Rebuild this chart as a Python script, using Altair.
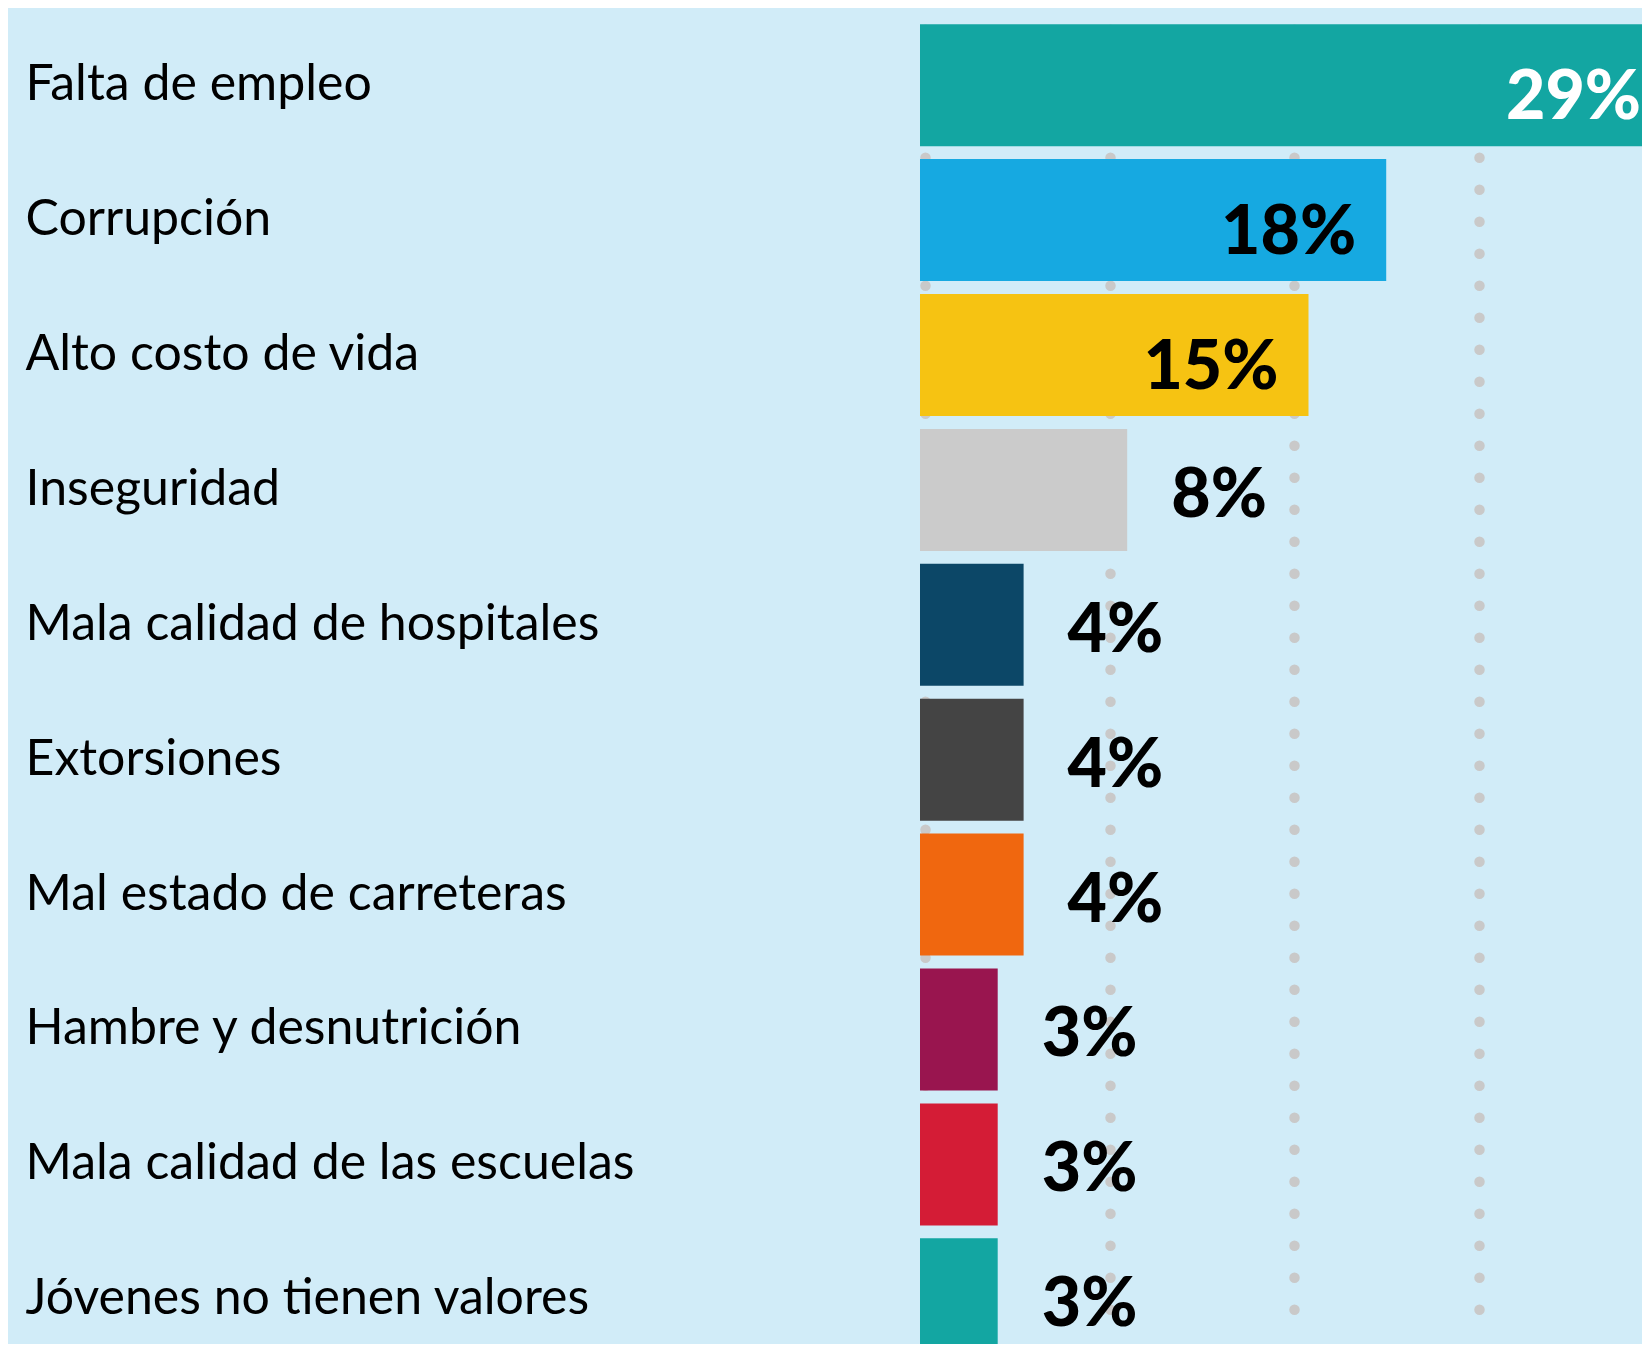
import altair as alt
import pandas as pd

categories = [
    "Falta de empleo",
    "Corrupción",
    "Alto costo de vida",
    "Inseguridad",
    "Mala calidad de hospitales",
    "Extorsiones",
    "Mal estado de carreteras",
    "Hambre y desnutrición",
    "Mala calidad de las escuelas",
    "Jóvenes no tienen valores",
]
values = [29, 18, 15, 8, 4, 4, 4, 3, 3, 3]
colors = [
    "#13a6a2", "#16a9e1", "#f6c312", "#cbcbcb", "#0c4767",
    "#444444", "#f0670f", "#99154f", "#d41c36", "#13a6a2",
]
grid_values = [0.19, 7.32, 14.44, 21.58]

df = pd.DataFrame({
    "categoria": categories,
    "valor": values,
    "etiqueta": [f"{v}%" for v in values],
})

x = alt.X(
    "valor:Q",
    scale=alt.Scale(domain=[0, 27.876], nice=False, zero=True),
    axis=alt.Axis(
        title=None, labels=False, ticks=False, domain=False,
        values=grid_values, grid=True, gridColor="#c9c9c9",
        gridWidth=10.5, gridDash=[0.1, 31.9], gridCap="round",
        gridDashOffset=13.5,
    ),
)
y = alt.Y(
    "categoria:N",
    sort=categories,
    scale=alt.Scale(range=[16.2, 1352.3], paddingInner=0.0956, paddingOuter=0),
    axis=alt.Axis(
        title=None, ticks=False, domain=False, grid=False,
        labelAlign="left", labelPadding=895, labelFont="Lato",
        labelFontSize=50, labelColor="#000000", labelLimit=0,
        labelBaseline="middle",
    ),
)

bars = alt.Chart(df).mark_bar(clip=True).encode(
    x=x,
    y=y,
    color=alt.Color("categoria:N", scale=alt.Scale(domain=categories, range=colors), legend=None),
)

inside = alt.Chart(df).transform_filter("datum.valor >= 10").mark_text(
    align="right", baseline="middle", dx=-30, dy=14,
    font="Lato", fontSize=68, fontWeight=900,
).encode(
    x=x, y=y, text="etiqueta:N",
    color=alt.condition("datum.valor > 25", alt.value("#ffffff"), alt.value("#000000")),
)

outside = alt.Chart(df).transform_filter("datum.valor < 10").mark_text(
    align="left", baseline="middle", dx=44, dy=7,
    font="Lato", fontSize=68, fontWeight=900, color="#000000",
).encode(x=x, y=y, text="etiqueta:N")

chart = alt.layer(bars, inside, outside).properties(
    width=722,
    height=1336,
    background="#d1ecf8",
    padding={"left": 912, "top": 0, "right": 0, "bottom": 0},
    autosize=alt.AutoSizeParams(type="none"),
).configure_view(strokeWidth=0)

chart.save("out.html", embed_options={"renderer": "svg", "actions": False})
